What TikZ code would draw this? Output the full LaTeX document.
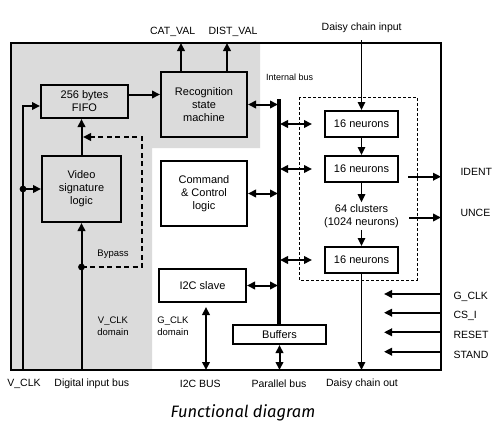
\documentclass[tikz,border=0pt]{standalone}
\usepackage{fontspec}
\setmainfont{Liberation Sans}
\newfontfamily\titlefont{Fira Sans}
\usetikzlibrary{positioning,calc,arrows.meta}
\definecolor{vclk}{gray}{0.86}
\tikzset{>={Triangle[length=8pt,width=7.5pt]},
  blk/.style={draw,line width=2pt,align=center,font=\fontsize{11}{13}\selectfont},
  neur/.style={blk,minimum width=73pt,minimum height=26pt},
  lbl/.style={font=\fontsize{10.5}{12}\selectfont,align=center},
  smalllbl/.style={font=\fontsize{9.5}{12}\selectfont,align=center},
  thk/.style={line width=2pt},
  dbl/.style={<->,thk},
  chain/.style={->,line width=1.3pt}}

\begin{document}
\begin{tikzpicture}[x=1pt,y=-1pt]
\useasboundingbox (0,0) rectangle (504,439);
\coordinate (tl) at (11,43);
\coordinate (br) at (441,370);
% clock domains
\fill[vclk] (tl) -- (260,43) -- (260,148) -- (152,148) -- (152,370) -- (11,370) -- cycle;
\draw[thk] (tl) rectangle (br);
\draw[dashed,dash pattern=on 3pt off 2pt,line width=0.9pt] (299,97) rectangle (417,280);

\node[blk,fill=vclk,minimum width=87pt,minimum height=33pt] (fifo) at (84.5,101.5) {256 bytes\\FIFO};
\node[blk,fill=vclk,minimum width=86pt,minimum height=65pt] (recog) at (204,104.5) {Recognition\\state\\machine};
\node[blk,fill=vclk,minimum width=79pt,minimum height=66pt] (video) at (81.5,189) {Video\\signature\\logic};
\node[blk,fill=white,minimum width=86pt,minimum height=65pt] (cmd) at (204,193.5) {Command\\\& Control\\logic};
\node[blk,fill=white,minimum width=87pt,minimum height=33pt] (i2c) at (202.5,285.5) {I2C slave};
\node[blk,fill=white,minimum width=93pt,minimum height=19pt] (buf) at (279.5,334.5) {Buffers};
\node[neur] (n1) at (361.5,124) {16 neurons};
\node[neur] (n2) at (361.5,169) {16 neurons};
\node[lbl,font=\fontsize{11}{13}\selectfont,inner sep=2pt] (clus) at (361.5,216) {64 clusters\\(1024 neurons)};
\node[neur] (n3) at (361.5,260) {16 neurons};

% internal bus
\coordinate (bustop) at (279,99);
\draw[line width=4pt] (bustop) -- (buf.north -| bustop);
\node[font=\fontsize{9}{11}\selectfont,anchor=west,inner sep=0pt] (ibus) at (266,77) {Internal bus};
\draw[dbl] (recog.east) -- ([xshift=-1pt]recog.east -| bustop);
\draw[dbl] (cmd.east) -- ([xshift=-1pt]cmd.east -| bustop);
\draw[dbl] (i2c.east) -- ([xshift=-1pt]i2c.east -| bustop);
\draw[dbl] ([xshift=1pt]n1.west -| bustop) -- ([xshift=-12pt]n1.west);
\draw[dbl] ([xshift=1pt]n2.west -| bustop) -- ([xshift=-12pt]n2.west);
\draw[dbl] ([xshift=1pt]n3.west -| bustop) -- ([xshift=-12pt]n3.west);
\draw[dbl] (buf.south) -- (buf.south |- br);
\draw[dbl,shorten <=4pt] ([xshift=3.5pt]i2c.south) -- ([xshift=3.5pt]i2c.south |- br);

% recognition outputs
\node[lbl] (catval) at (172.7,31.7) {CAT\_VAL};
\node[lbl] (distval) at (233,31.7) {DIST\_VAL};
\draw[->,thk] ([xshift=-23pt]recog.north) -- ([xshift=-23pt]recog.north |- tl);
\draw[->,thk] ([xshift=23pt]recog.north) -- ([xshift=23pt]recog.north |- tl);
\draw[->,thk] ([yshift=7pt]fifo.east) -- ([yshift=7pt]fifo.east -| recog.west);

% video path
\coordinate (vclkin) at (23,370);
\coordinate (vdot) at (vclkin |- video.west);
\draw[->,thk] (vclkin) |- ([yshift=-4.5pt]fifo.west);
\fill (vdot) circle[radius=3.4pt];
\draw[->,thk] (vdot) -- (video.west);
\coordinate (din) at (video.south |- br);
\coordinate (bdot) at (81.5,267);
\draw[->,thk] (din) -- (video.south);
\draw[->,thk] (video.north) -- (video.north |- fifo.south);
\fill (bdot) circle[radius=3.4pt];
\coordinate (bp1) at (142,267);
\coordinate (bp2) at (142,137);
\coordinate (bpend) at (83,137);
\draw[->,thk,dashed,dash pattern=on 5pt off 3.5pt] (bdot) -- (bp1) -- (bp2) -- (bpend);
\node[smalllbl] (bypass) at (113,254) {Bypass};
\node[smalllbl] (vdom) at (113,326) {V\_CLK\\domain};
\node[smalllbl] (gdom) at (173,326) {G\_CLK\\domain};

% daisy chain
\coordinate (dcin) at (n1.north |- 0,40);
\node[lbl] (dcinlbl) at (361.7,28) {Daisy chain input};
\draw[chain] (dcin) -- (n1.north);
\draw[chain] (n1) -- (n2);
\draw[chain] (n2) -- (clus);
\draw[chain] (clus) -- (n3);
\draw[chain] (n3.south) -- (n3.south |- br);

% right side
\coordinate (ident0) at (408,176.7);
\coordinate (unce0) at (409,217.5);
\draw[->,thk] (ident0) -- (ident0 -| br);
\draw[->,thk] (unce0) -- (unce0 -| br);
\node[lbl,anchor=west] (ident) at (457,172) {IDENT};
\node[lbl,anchor=west] (unce) at (457,213) {UNCE};
\coordinate (gclk0) at (441,294);
\coordinate (csi0) at (441,312.7);
\coordinate (reset0) at (441,332.3);
\coordinate (stand0) at (441,351.7);
\coordinate (inend) at (384,0);
\draw[->,thk] (gclk0) -- (gclk0 -| inend);
\draw[->,thk] (csi0) -- (csi0 -| inend);
\draw[->,thk] (reset0) -- (reset0 -| inend);
\draw[->,thk] (stand0) -- (stand0 -| inend);
\node[lbl,anchor=west] (gclk) at (450,297) {G\_CLK};
\node[lbl,anchor=west] (csi) at (450,316) {CS\_I};
\node[lbl,anchor=west] (reset) at (450,335) {RESET};
\node[lbl,anchor=west] (stand) at (450,355) {STAND};

% bottom
\node[lbl] (vclklbl) at (24,384) {V\_CLK};
\node[lbl] (dinlbl) at (91.8,384) {Digital input bus};
\node[lbl] (i2cbus) at (200.3,384) {I2C BUS};
\node[lbl] (pbus) at (279,384) {Parallel bus};
\node[lbl] (dcout) at (362,384) {Daisy chain out};
\node[font=\titlefont\itshape\fontsize{16.5}{18}\selectfont,anchor=base] (title) at (243,417.7) {Functional diagram};
\end{tikzpicture}
\end{document}
